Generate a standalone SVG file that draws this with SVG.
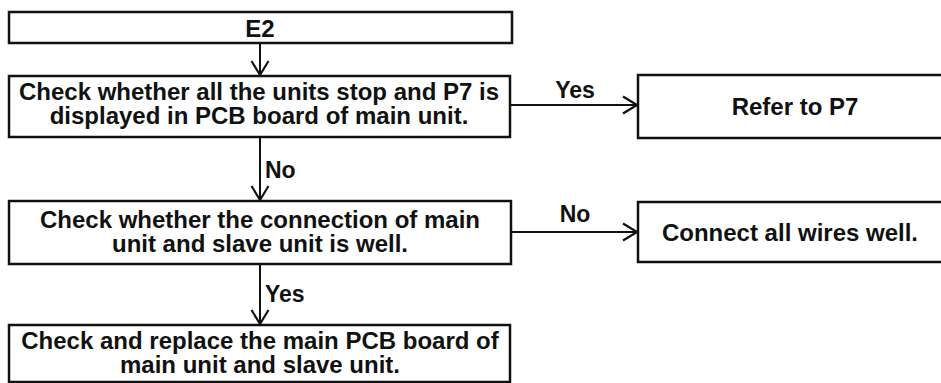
<svg xmlns="http://www.w3.org/2000/svg" width="941" height="383" viewBox="0 0 941 383">
<defs>
<style>
.box{fill:#fff;stroke:#111;stroke-width:2.5}
.t{font-family:"Liberation Sans",Arial,sans-serif;font-weight:bold;font-size:24px;fill:#111;text-anchor:middle}
.l{font-family:"Liberation Sans",Arial,sans-serif;font-weight:bold;font-size:23px;fill:#111}
.lc{font-family:"Liberation Sans",Arial,sans-serif;font-weight:bold;font-size:23px;fill:#111;text-anchor:middle}
.c{fill:none;stroke:#111;stroke-width:2}
</style>
<marker id="ah" markerWidth="18" markerHeight="20" refX="15" refY="10" orient="auto" markerUnits="userSpaceOnUse">
<path d="M1,1.5 L15,10 L1,18.5" fill="none" stroke="#111" stroke-width="2.2"/>
</marker>
</defs>
<rect width="941" height="383" fill="#fff"/>
<g id="connectors">
<line class="c" x1="260" y1="43" x2="260" y2="75" marker-end="url(#ah)"/>
<line class="c" x1="260" y1="137" x2="260" y2="200" marker-end="url(#ah)"/>
<line class="c" x1="260" y1="264" x2="260" y2="324" marker-end="url(#ah)"/>
<line class="c" x1="510" y1="105" x2="637" y2="105" marker-end="url(#ah)"/>
<line class="c" x1="511" y1="232" x2="637" y2="232" marker-end="url(#ah)"/>
<text class="l" x="265" y="178">No</text>
<text class="l" x="265" y="302">Yes</text>
<text class="lc" x="575" y="98">Yes</text>
<text class="lc" x="575" y="222">No</text>
</g>
<g id="e2">
<rect class="box" x="9" y="12" width="503" height="31"/>
<text class="t" x="260" y="37">E2</text>
</g>
<g id="check1">
<rect class="box" x="9" y="76" width="501" height="61"/>
<text class="t" x="259" y="100">Check whether all the units stop and P7 is</text>
<text class="t" x="259" y="124">displayed in PCB board of main unit.</text>
</g>
<g id="refer">
<rect class="box" x="638" y="75" width="310" height="63"/>
<text class="t" x="795" y="115">Refer to P7</text>
</g>
<g id="check2">
<rect class="box" x="9" y="201" width="502" height="63"/>
<text class="t" x="260" y="228">Check whether the connection of main</text>
<text class="t" x="260" y="252">unit and slave unit is well.</text>
</g>
<g id="connect">
<rect class="box" x="638" y="202" width="310" height="60"/>
<text class="t" x="790" y="241">Connect all wires well.</text>
</g>
<g id="replace">
<rect class="box" x="9" y="325" width="501" height="57"/>
<text class="t" x="260" y="349">Check and replace the main PCB board of</text>
<text class="t" x="260" y="373">main unit and slave unit.</text>
</g>
</svg>
